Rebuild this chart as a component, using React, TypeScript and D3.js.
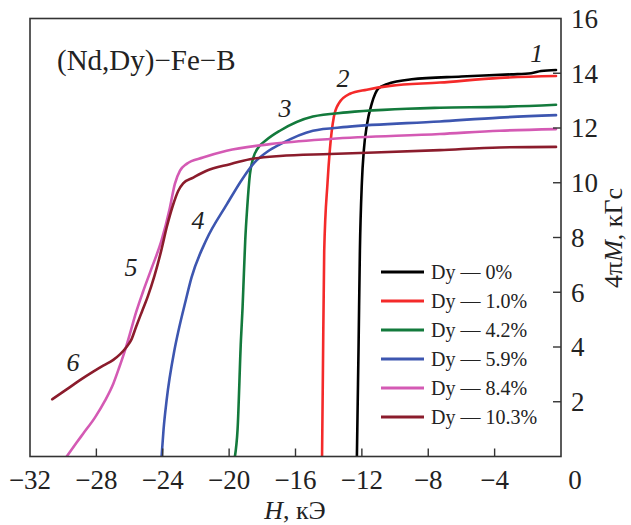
import React from "react";
import * as d3 from "d3";

type Pt = [number, number];

const seriesNames = ["Dy — 0%", "Dy — 1.0%", "Dy — 4.2%", "Dy — 5.9%", "Dy — 8.4%", "Dy — 10.3%"];
const seriesColors = ["#000000", "#f42a2a", "#137a3c", "#3d56b0", "#d45ab4", "#8b1c2c"];

const dy0: Pt[] = [
  [-12.3, 0], [-12.25, 2], [-12.2, 4], [-12.12, 7.5], [-12.0, 10], [-11.88, 11.2], [-11.7, 12.1],
  [-11.4, 12.9], [-11.0, 13.45], [-10.5, 13.6], [-9, 13.78], [-6, 13.88], [-3, 13.96], [-1.8, 14.0],
  [-1.2, 14.08], [-0.3, 14.12],
];
const dy10: Pt[] = [
  [-14.4, 0], [-14.35, 3], [-14.27, 7.5], [-14.07, 10], [-13.93, 11.2], [-13.69, 12.4], [-13.39, 12.9],
  [-12.72, 13.25], [-11.7, 13.4], [-10.3, 13.54], [-7.3, 13.66], [-3.7, 13.83], [-0.3, 13.9],
];
const dy42: Pt[] = [
  [-19.65, 0], [-19.49, 1], [-19.29, 4.23], [-19.19, 5.44], [-19.11, 6.68], [-19.03, 7.88], [-18.91, 9.09],
  [-18.75, 10.3], [-18.55, 10.9], [-18.25, 11.28], [-17.78, 11.55], [-16.94, 11.9], [-14.95, 12.42],
  [-12.9, 12.57], [-7.3, 12.74], [-3.7, 12.77], [-0.3, 12.85],
];
const dy59: Pt[] = [
  [-24.07, 0], [-23.95, 1], [-23.77, 2.04], [-23.3, 3.87], [-23.05, 4.6], [-22.62, 5.69], [-22.26, 6.55],
  [-21.4, 7.88], [-20.15, 9.2], [-19.19, 10.15], [-18.45, 10.75], [-17.66, 11.15], [-16.94, 11.4],
  [-14.95, 11.9], [-12.9, 12.04], [-7.3, 12.24], [-3.7, 12.38], [-0.3, 12.47],
];
const dy84: Pt[] = [
  [-29.79, 0], [-29.2, 0.5], [-28.79, 0.84], [-28.08, 1.43], [-27.48, 2.04], [-26.98, 2.66], [-26.62, 3.26],
  [-26.28, 3.87], [-25.98, 4.48], [-25.6, 5.28], [-25.2, 6.0], [-24.67, 6.88], [-24.07, 7.9],
  [-23.57, 9.09], [-23.27, 9.96], [-22.96, 10.44], [-22.56, 10.69], [-21.58, 10.92], [-20.15, 11.17],
  [-17.54, 11.41], [-13.9, 11.6], [-7.3, 11.78], [-3.7, 11.9], [-0.3, 11.96],
];
const dy103: Pt[] = [
  [-30.66, 2.09], [-29.79, 2.45], [-28.99, 2.79], [-28.19, 3.1], [-27.59, 3.32], [-26.98, 3.53],
  [-26.58, 3.73], [-26.17, 4.01], [-25.9, 4.26], [-25.6, 4.75], [-25.25, 5.3], [-24.9, 5.85],
  [-24.5, 6.6], [-24.1, 7.5], [-23.75, 8.4], [-23.4, 9.15], [-23.07, 9.7], [-22.77, 9.98], [-22.16, 10.19],
  [-21.36, 10.44], [-19.95, 10.68], [-18.75, 10.86], [-16.94, 10.98], [-13.93, 11.05], [-7.3, 11.19],
  [-3.7, 11.29], [-0.3, 11.31],
];
const seriesData: Pt[][] = [dy0, dy10, dy42, dy59, dy84, dy103];

const curveNumbers = ["1", "2", "3", "4", "5", "6"];
const curveNumberPos: Pt[] = [[-1.46, 14.74], [-13.14, 13.83], [-16.64, 12.73], [-21.88, 8.64], [-25.92, 6.92], [-29.41, 3.45]];

const xTicks = [-32, -28, -24, -20, -16, -12, -8, -4, 0];
const yTicks = [2, 4, 6, 8, 10, 12, 14, 16];

const W = 631;
const H = 525;
const FONT = "'Liberation Serif', 'Times New Roman', Times, serif";

export default function App() {
  const x = d3.scaleLinear().domain([-32, 0]).range([30, 561]);
  const y = d3.scaleLinear().domain([0, 16]).range([456.5, 18.5]);
  const line = d3
    .line<Pt>()
    .x((d) => x(d[0]))
    .y((d) => y(d[1]))
    .curve(d3.curveMonotoneX);

  const [x0, x1] = x.range();
  const [yb, yt] = y.range();
  const ts = { fontFamily: FONT };

  return (
    <div style={{ position: "absolute", left: 0, top: 0 }}>
      <svg width={W} height={H} style={{ display: "block", background: "#fff", fontFamily: FONT }}>
        <defs>
          <clipPath id="plotclip">
            <rect x={x0} y={yt} width={x1 - x0} height={yb - yt} />
          </clipPath>
        </defs>

        {/* curves */}
        <g clipPath="url(#plotclip)">
          {seriesData.map((d, i) => (
            <path key={i} d={line(d) || ""} fill="none" stroke={seriesColors[i]} strokeWidth={2.6} strokeLinejoin="round" strokeLinecap="round" />
          ))}
        </g>

        {/* frame */}
        <rect x={x0} y={yt} width={x1 - x0} height={yb - yt} fill="none" stroke="#333" strokeWidth={1.6} />

        {/* x ticks */}
        {xTicks.filter((t) => t > -32 && t < 0).map((t) => (
          <line key={"xt" + t} x1={x(t)} x2={x(t)} y1={yb} y2={yb - 8} stroke="#333" strokeWidth={1.4} />
        ))}
        {xTicks.map((t) => (
          <text key={"xl" + t} x={x(t) + (t === 0 ? 14 : 0)} y={489} textAnchor="middle" fontSize={27} fill="#222" style={ts}>
            {t < 0 ? "\u2212" + Math.abs(t) : String(t)}
          </text>
        ))}

        {/* y ticks */}
        {yTicks.filter((t) => t < 16).map((t) => (
          <line key={"yt" + t} x1={x1} x2={x1 - 8} y1={y(t)} y2={y(t)} stroke="#333" strokeWidth={1.4} />
        ))}
        {yTicks.map((t) => (
          <text key={"yl" + t} x={571} y={y(t)} dy="0.35em" textAnchor="start" fontSize={27} fill="#222" style={ts}>
            {t}
          </text>
        ))}

        {/* axis titles */}
        <text x={295} y={519} textAnchor="middle" fontSize={26} fill="#222" style={ts}>
          <tspan fontStyle="italic">H</tspan>, кЭ
        </text>
        <text transform={`translate(622, 238) rotate(-90)`} textAnchor="middle" fontSize={26} fill="#222" style={ts}>
          4π<tspan fontStyle="italic">M</tspan>, кГс
        </text>

        {/* title */}
        <text x={57} y={70} fontSize={29} fill="#222" style={ts}>(Nd,Dy)−Fe−B</text>

        {/* curve numbers */}
        {curveNumbers.map((n, i) => (
          <text key={"cn" + i} x={x(curveNumberPos[i][0])} y={y(curveNumberPos[i][1])} dy="0.35em" textAnchor="middle" fontSize={26} fontStyle="italic" fill="#222" style={ts}>
            {n}
          </text>
        ))}

        {/* legend */}
        {seriesNames.map((name, i) => (
          <g key={"lg" + i} transform={`translate(381, ${272 + i * 29})`}>
            <line x1={0} x2={43} y1={0} y2={0} stroke={seriesColors[i]} strokeWidth={3} />
            <text x={50} y={0} dy="0.35em" fontSize={20} fill="#222" style={ts}>{name}</text>
          </g>
        ))}
      </svg>
    </div>
  );
}
